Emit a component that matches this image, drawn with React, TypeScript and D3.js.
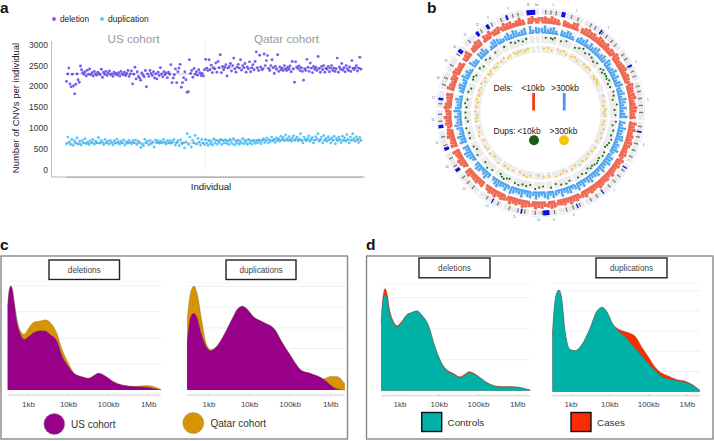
import React from "react";
import * as d3 from "d3";

// ---------- panel a ----------
const yTicksA = [0, 500, 1000, 1500, 2000, 2500, 3000];
const usDeletion = [2120,2300,2440,2060,1990,2290,2010,1820,2050,2300,2160,2100,2490,2400,2330,2290,2350,2250,2390,2290,2420,2280,2330,2250,2360,2300,2270,2340,2310,2280,2410,2220,2340,2290,2360,2260,2320,2370,2280,2300,2240,2340,2290,2310,2270,2330,2250,2360,2300,2280,2340,2260,2310,2380,2240,2300,2370,2060,2290,2460,2180,2350,2240,2200,2150,2320,2270,2230,2380,1990,2300,2240,2380,2310,2260,2350,2200,2300,2180,2340,2260,2450,2300,2230,2350,2280,2320,2210,2340,2290,2520,2090,2200,2280,2420,2090,2350,2440,2530,1980,2090,2210,2350,2160,1860,1870,2640,2310,2380,2220,2430,2290,2350,2270,2400,2330,2260,2310,2250];
const qatarDeletion = [2400,2650,2440,2380,2640,2400,2510,2330,2450,2420,2560,2340,2600,2450,2760,2330,2480,2400,2460,2520,2250,2440,2480,2550,2370,2500,2680,2420,2340,2470,2530,2440,2640,2390,2500,2450,2550,2340,2470,2420,2590,2350,2450,2520,2400,2600,2830,2450,2380,2750,2470,2400,2420,2780,2500,2620,2740,2430,2380,2500,2640,2450,2310,2480,2410,2760,2360,2470,2400,2440,2380,2500,2420,2380,2460,2410,2490,2350,2600,2420,2100,2590,2470,2430,2490,2380,2450,2360,2150,2420,2380,2650,2460,2360,2560,2440,2330,2480,2410,2460,2380,2720,2430,2340,2480,2400,2500,2340,2430,2410,2480,2350,2440,2500,2380,2440,2360,2420,2680,2340,2470,2410,2550,2390,2450,2350,2500,2420,2380,2470,2360,2620,2430,2400,2450,2500,2370,2440,2700,2410];
const usDuplication = [620,780,660,600,720,580,690,630,760,610,680,590,700,640,740,620,660,600,690,650,720,610,680,640,770,630,700,660,600,720,640,680,610,700,650,590,690,630,730,660,610,680,640,710,590,670,630,700,650,620,690,640,710,600,680,650,530,610,570,720,640,680,590,700,620,660,540,710,650,690,630,680,640,720,660,610,690,640,700,630,680,720,590,650,690,570,710,620,640,520,660,860,600,780,540,700,640,820,610,750,660,590,720,640];
const qatarDuplication = [600,720,640,580,690,620,660,590,740,640,700,610,680,650,720,600,690,640,710,630,680,600,720,660,620,740,590,680,630,700,610,670,640,750,620,690,650,600,720,640,680,610,700,660,630,690,640,710,670,620,700,740,650,690,760,640,710,670,780,690,720,650,760,700,740,680,800,720,770,690,830,740,700,790,720,680,760,810,700,740,780,690,730,860,700,640,780,720,690,750,810,680,730,770,640,700,790,740,860,680,720,780,640,820,700,750,680,790,730,640,760,700,800,620,740,690,780,720,650,800,700,760,680,840,720,640,780,700,860,740,680,790,720,650,770,700];
const meansA = [
  { from: 0, to: 1, value: 2300 },
  { from: 1, to: 2, value: 2440 },
  { from: 0, to: 1, value: 640 },
  { from: 1, to: 2, value: 710 },
];
const purple = "#7A5CF2";
const sky = "#5AC8FC";

// ---------- panel b ----------
const sectorEdges = [0,13.5,25.6,52,72,95,120,154,170,176,186,202,217.5,232.7,247,260,272,283,293.8,303.6,311,320.5,327.8,334,351,356,360];
const redBars = [7,8,6,9,7,6,8,7,6,5,8,9,7,6,8,9,7,8,6,9,8,7,9,6,8,7,9,8,6,7,8,9,6,8,7,6,9,8,7,8,9,6,7,9,8,6,7,8,9,7,9,6,8,7,9,8,6,7,8,6,9,7,8,6,7,9,6,8,7,8,9,6,7,8,6,9,7,6,8,7,9,6,8,7,6,8,9,7,6,8,7,9,6,7,8,9,6,8,7,9,6,7,8,6,9,7,8,6,9,7,6,8,7,6,9,8,7,6,8,9,6,7,9,6,8,7,6,9,8,7,6,8,7,9,6,7,9,8,6,7,8,6,9,7,6,8,7,9,8,6,7,8,6,7,9,8,6,7,9,8,6,8,7,9,6,7,8,6,9,7,8,5,7,9,6,8,7,9,6,7];
const blueBars = [6,9,5,7,8,4,9,6,5,8,7,4,9,5,7,6,9,4,8,5,7,9,4,6,8,5,9,7,4,6,9,5,8,4,7,9,5,6,8,4,9,7,5,8,4,6,9,5,7,4,9,6,5,8,9,4,7,6,9,5,4,8,7,9,5,6,9,4,8,6,5,9,7,4,8,5,9,6,4,8,7,5,9,4,6,8,5,9,7,4,6,9,5,8,7,4,9,6,5,7,9,4,8,5,6,9,7,4,8,5,9,6,4,7,8,5,9,4,6,8,9,5,7,4,8,6,9,5,4,7,9,6,5,8,4,9,7,5,6,8,4,9,5,7,8,4,6,9,5,7,4,8,9,6,5,4,8,7,9,5,6,4,8,9,7,5,4,6,8,5,9,7,4,6,8,5,9,4,7,6];
const greenAngles = [4,8,9.5,11,16,20,28,31,34,37,40,43,46,49,54,56,57,59,61,63,65,67,70,74,77,80,84,88,92,97,100,104,108,111,114,116,118,122,125,128,130,132,134,136,138,140,143,146,150,157,160,164,168,172,178,181,184,188,191,194,197,200,205,207,209,211,213,220,224,228,236,240,243,250,254,258,263,266,270,274,277,280,286,289,296,298,300,306,309,314,317,323,331,337,340,343,346,349];
const greenLevels = [5,5,4,6,4,6,3,5,7,4,6,5,3,5,4,6,3,5,5,4,6,3,4,6,5,3,7,4,5,6,3,5,4,6,5,4,3,5,6,4,5,6,5,4,5,3,6,4,5,4,6,5,3,6,4,5,7,3,5,4,6,5,3,4,6,5,3,5,7,4,6,3,5,5,4,6,3,5,5,4,6,4,5,3,5,6,4,5,3,6,4,5,5,6,4,5,3,5];
const yellowAngles = [3,7,10,15,18,21,24,29,32,35,42,45,47,49,56,58,60,62,64,75,80,84,87,89,91,93,98,101,105,109,113,117,123,127,131,135,139,143,147,151,156,159,162,166,172,177,182,189,192,195,199,205,210,214,220,226,231,235,238,244,249,252,256,262,265,268,271,275,279,282,285,287,290,293,296,299,302,306,308,310,314,316,319,322,326,329,332,336,338,340,342,345,347,349];
const yellowLevels = [4,5,3,5,4,6,3,4,5,3,5,4,6,5,4,3,5,4,3,5,4,3,5,4,3,5,4,3,5,4,6,3,5,4,3,5,4,6,3,5,4,3,5,6,4,5,3,4,6,5,3,4,5,4,6,3,5,4,5,3,6,4,3,5,4,3,5,4,3,5,4,3,5,4,6,3,5,4,3,5,4,3,5,4,6,3,4,5,3,4,5,3,4,5];
const centromeres = [
  [354.5, 5], [13.2, 2.2], [36.8, 0.9], [62.5, 0.9], [101, 0.9], [123, 0.7], [142, 0.7], [158.5, 0.7], [176.7, 3.6],
  [190.9, 0.9], [208.5, 0.7], [235.4, 1.8], [249, 1.8], [262, 1.8], [277.7, 1.4], [307.4, 2.2], [321.4, 1.8], [328.4, 1.8], [340.5, 1.2],
];
const cytoBands = [3,6,9,18,22,30,33,38,41,45,48,55,58,63,66,69,75,78,82,86,90,98,104,108,112,116,125,129,133,137,146,150,157,161,165,172,179,183,189,193,198,205,212,222,226,230,238,243,251,256,265,269,275,286,290,298,305,315,324,331,337,344,347];
const chromLabels = ["1","2","3","4","5","6","7","8","9","10","11","12","13","14","15","16","17","18","19","20","21","22","X","Y","M","Un"];

// ---------- panels c, d ----------
const xTicksLog = [3, 4, 5, 6];
const xTickLabels = ["1kb", "10kb", "100kb", "1Mb"];
const minorTicksLog = [2.7, 3.7, 4.7, 5.7];

const cDelSize = [2.48,2.52,2.56,2.60,2.64,2.71,2.79,2.89,3.00,3.12,3.29,3.42,3.54,3.71,3.83,4.00,4.16,4.33,4.50,4.62,4.75,4.91,5.12,5.37,5.62,5.95,6.12,6.31];
const cDelUS = [3.19,3.83,3.98,3.83,3.38,2.61,2.17,1.94,2.04,2.19,2.27,2.26,2.13,1.88,1.34,0.89,0.61,0.51,0.45,0.54,0.64,0.54,0.32,0.18,0.13,0.11,0.06,0.01];
const cDelQatar = [3.19,3.83,3.98,3.83,3.44,2.74,2.30,2.14,2.36,2.59,2.64,2.69,2.59,2.17,1.59,1.02,0.61,0.51,0.45,0.54,0.64,0.54,0.32,0.18,0.14,0.17,0.13,0.01];

const cDupSize = [2.46,2.50,2.55,2.63,2.71,2.82,2.93,3.04,3.19,3.35,3.56,3.72,3.83,3.93,4.09,4.34,4.63,4.79,5.00,5.16,5.28,5.49,5.82,5.98,6.15,6.35];
const cDupUS = [2.34,2.98,3.55,3.71,3.47,2.66,2.10,1.90,2.10,2.58,3.39,3.95,4.05,3.92,3.55,3.27,2.90,2.34,1.69,1.21,0.94,0.81,0.53,0.27,0.05,0];
const cDupQatar = [3.31,4.13,4.76,5.03,4.66,3.39,2.26,1.95,2.10,2.58,3.39,3.95,4.05,3.92,3.55,3.27,2.90,2.34,1.69,1.21,0.94,0.81,0.53,0.65,0.65,0.29];

const dDelSize = [2.52,2.55,2.62,2.68,2.74,2.83,2.93,3.04,3.17,3.30,3.44,3.55,3.72,3.89,4.06,4.19,4.36,4.53,4.66,4.76,5.00,5.21,5.51,5.93,6.32];
const dDelControls = [2.17,2.76,3.11,2.92,2.49,2.20,2.06,2.20,2.44,2.52,2.57,2.44,2.12,1.42,0.88,0.65,0.53,0.42,0.51,0.59,0.45,0.26,0.13,0.12,0.02];
const dDelCases = [2.17,2.87,3.30,3.09,2.60,2.25,2.10,2.23,2.45,2.53,2.58,2.45,2.13,1.43,0.90,0.68,0.56,0.45,0.54,0.62,0.47,0.27,0.14,0.13,0.02];

const dDupSize = [2.52,2.56,2.63,2.69,2.76,2.85,2.97,3.10,3.27,3.49,3.66,3.81,3.92,4.09,4.22,4.39,4.65,4.82,4.99,5.16,5.29,5.50,5.72,5.94,6.15,6.32];
const dDupControls = [2.81,3.97,4.88,5.04,4.63,2.98,2.10,2.03,2.31,3.14,3.97,4.18,3.97,3.31,3.01,2.73,2.15,1.79,1.40,1.07,0.83,0.63,0.55,0.46,0.30,0.05];
const dDupCases = [2.81,3.97,4.88,5.04,4.63,2.98,2.10,2.03,2.31,3.14,3.97,4.18,3.97,3.31,3.11,2.98,2.76,2.23,1.74,1.24,0.99,0.79,0.61,0.53,0.33,0.08];

const FONT = "'Liberation Sans', Arial, sans-serif";
const usColor = "#99008A";
const qatarColor = "#D79300";
const teal = "#00B2A6";
const caseRed = "#FB2C00";

function Letter({ x, y, t }: { x: number; y: number; t: string }) {
  return <text x={x} y={y} fontFamily={FONT} fontWeight="bold" fontSize={15.5} fill="#111">{t}</text>;
}

function PanelA() {
  const yS = d3.scaleLinear().domain([0, 3000]).range([169.5, 44.8]);
  const xS = d3.scaleLinear().domain([0, 1, 2]).range([66.5, 204.5, 362]);
  const x = (group: number, i: number, n: number) => xS(group + i / n);
  const groups: [number[], number, string][] = [
    [usDuplication, 0, sky], [qatarDuplication, 1, sky], [usDeletion, 0, purple], [qatarDeletion, 1, purple],
  ];
  return (
    <g fontFamily={FONT}>
      <Letter x={0} y={12.5} t="a" />
      <circle cx={54} cy={19} r={1.9} fill={purple} />
      <text x={60} y={21.8} fontSize={8.3} fill="#222">deletion</text>
      <circle cx={102} cy={19} r={1.9} fill={sky} />
      <text x={108} y={21.8} fontSize={8.5} fill="#222">duplication</text>
      <text x={133.5} y={43} textAnchor="middle" fontSize={11.7} fill="#9a9a9a">US cohort</text>
      <text x={286.5} y={43} textAnchor="middle" fontSize={11.7} fill="#9a9a9a">Qatar cohort</text>
      <line x1={205.5} x2={205.5} y1={40} y2={170} stroke="#d8d8d8" strokeWidth={0.8} strokeDasharray="1 1.5" />
      <line x1={51.5} x2={51.5} y1={41} y2={177} stroke="#aaa" strokeWidth={0.8} />
      <line x1={51} x2={365} y1={177} y2={177} stroke="#b5b5b5" strokeWidth={1} />
      <line x1={66.5} x2={362} y1={177.2} y2={177.2} stroke="#888" strokeWidth={1} strokeDasharray="1 0.6" />
      {yTicksA.map((t) => (
        <text key={t} x={48} y={yS(t) + 3} textAnchor="end" fontSize={8.5} fill="#333">{t}</text>
      ))}
      <text transform="translate(18.5,108) rotate(-90)" textAnchor="middle" fontSize={9.5} fill="#222">Number of CNVs per individual</text>
      <text x={211} y={190} textAnchor="middle" fontSize={9.6} fill="#222">Individual</text>
      {groups.map(([vals, g, c], k) => (
        <g key={k} fill={c}>
          {vals.map((v, i) => <circle key={i} cx={x(g, i, vals.length)} cy={yS(v)} r={1.45} />)}
        </g>
      ))}
      {meansA.map((m, i) => (
        <line key={i} x1={xS(m.from)} x2={xS(m.to)} y1={yS(m.value)} y2={yS(m.value)} stroke="#333" strokeWidth={0.6} strokeDasharray="0.9 1.1" />
      ))}
    </g>
  );
}

function PanelB() {
  const cx = 540.5, cy = 112.5;
  const arc = d3.arc<any>();
  const rad = (a: number) => (a * Math.PI) / 180;
  const pad = 0.6;
  const sectors = d3.pairs(sectorEdges).map(([a, b]) => ({ a: a + pad, b: b - pad }));
  const path = (r0: number, r1: number, a0: number, a1: number) =>
    arc({ innerRadius: r0, outerRadius: r1, startAngle: rad(a0), endAngle: rad(a1) }) as string;
  const inSector = (a: number) => sectors.some((s) => a > s.a && a < s.b);
  const ringBg = [
    { r0: 60, r1: 67, fill: "#ECECEC" },
    { r0: 69.5, r1: 77, fill: "#ECECEC" },
    { r0: 79, r1: 87, fill: "#F3F3F3" },
    { r0: 98, r1: 103, fill: "#EAEAEA" },
  ];
  const pol = (r: number, a: number) => [cx + r * Math.sin(rad(a)), cy - r * Math.cos(rad(a))];
  const binDeg = 2;
  return (
    <g fontFamily={FONT}>
      <Letter x={427} y={13} t="b" />
      <g filter="url(#soft)">
        <g transform={`translate(${cx},${cy})`}>
          {ringBg.map((r, k) => sectors.map((s, i) => <path key={`${k}-${i}`} d={path(r.r0, r.r1, s.a, s.b)} fill={r.fill} />))}
          {sectors.map((s, i) => <path key={i} d={path(89, 92, s.a, s.b)} fill="#EE6B55" />)}
          {redBars.map((v, i) => {
            const a = i * binDeg + 1;
            return inSector(a) ? <path key={i} d={path(91, 90 + v * 0.78, a - 0.95, a + 0.95)} fill="#EE6B55" /> : null;
          })}
          {sectors.map((s, i) => <path key={i} d={path(79, 81, s.a, s.b)} fill="#4EA7F4" />)}
          {blueBars.map((v, i) => {
            const a = i * binDeg + 1;
            return inSector(a) ? <path key={i} d={path(80, 80 + v * 0.8, a - 0.8, a + 0.8)} fill="#4EA7F4" /> : null;
          })}
          {sectors.map((s, i) => (
            <path key={i} d={path(103.8, 104.6, s.a, s.b)} fill="#E6E6FC" />
          ))}
          {cytoBands.filter(inSector).map((a, i) => <path key={i} d={path(98.4, 102.6, a - 0.35, a + 0.35)} fill="#777" />)}
          {centromeres.map(([a, w], i) => <path key={i} d={path(98, 103, a - w / 2, a + w / 2)} fill="#0A0AE6" />)}
        </g>
        {greenAngles.map((a, i) => {
          const [x, y] = pol(70.5 + greenLevels[i] * 0.9, a);
          return <circle key={i} cx={x} cy={y} r={1.05} fill="#1C6B14" />;
        })}
        {yellowAngles.map((a, i) => {
          const [x, y] = pol(60.5 + yellowLevels[i] * 0.9, a);
          return <circle key={i} cx={x} cy={y} r={1.05} fill="#F8C21F" />;
        })}
      </g>
      {sectors.map((s, i) => {
        const [x, y] = pol(108, (s.a + s.b) / 2);
        return <text key={i} x={x} y={y + 1} textAnchor="middle" fontSize={2.8} fill="#666">{chromLabels[i]}</text>;
      })}
      <g fontSize={8.5} fill="#222">
        <text x={493.5} y={90.5}>Dels:</text>
        <text x={533} y={90.5} textAnchor="middle">&lt;10kb</text>
        <text x={565} y={90.5} textAnchor="middle">&gt;300kb</text>
        <text x={493.5} y={133.5}>Dups:</text>
        <text x={529} y={133.5} textAnchor="middle">&lt;10kb</text>
        <text x={563.5} y={133.5} textAnchor="middle">&gt;300kb</text>
      </g>
      <rect x={532.2} y={93} width={2.8} height={17.5} fill="#F23E18" />
      <rect x={562.8} y={93} width={2.8} height={17.5} fill="#4A96F0" />
      <circle cx={534} cy={140.3} r={5} fill="#15600C" />
      <circle cx={564} cy={140.3} r={5} fill="#FBC400" />
    </g>
  );
}

function Density(props: {
  x0: number; x1: number; xTick3: number; xTick6: number; base: number; axisY: number; labelY: number;
  unit: number; grid: number[]; top: number; size: number[]; back: number[]; front: number[]; backColor: string; frontColor: string;
}) {
  const { x0, x1, xTick3, xTick6, base, axisY, labelY, unit, grid, top, size, back, front, backColor, frontColor } = props;
  const xS = d3.scaleLinear().domain([3, 6]).range([xTick3, xTick6]);
  const yS = d3.scaleLinear().domain([0, 1]).range([base, base - unit]);
  const area = (vals: number[]) =>
    d3.area<number>().x((_, i) => xS(size[i])).y0(base).y1((d) => yS(d)).curve(d3.curveMonotoneX)(vals) as string;
  const upper = (vals: number[]) =>
    d3.line<number>().x((_, i) => xS(size[i])).y((d) => yS(d)).curve(d3.curveMonotoneX)(vals) as string;
  return (
    <g>
      <line x1={x0} x2={x1} y1={top} y2={top} stroke="#f3f3f3" strokeWidth={0.8} />
      {grid.map((g) => <line key={g} x1={x0} x2={x1} y1={yS(g)} y2={yS(g)} stroke="#ececec" strokeWidth={0.8} />)}
      <path d={area(back)} fill={backColor} />
      <path d={upper(back)} fill="none" stroke="#666" strokeWidth={0.3} />
      <path d={area(front)} fill={frontColor} />
      <path d={upper(front)} fill="none" stroke="#555" strokeWidth={0.3} />
      <line x1={x0} x2={x1} y1={axisY} y2={axisY} stroke="#c4c4c4" strokeWidth={0.8} />
      {xTicksLog.map((t) => <line key={t} x1={xS(t)} x2={xS(t)} y1={axisY - 1.5} y2={axisY} stroke="#aaa" strokeWidth={0.6} />)}
      {minorTicksLog.map((t) => <line key={t} x1={xS(t)} x2={xS(t)} y1={axisY - 1} y2={axisY} stroke="#c4c4c4" strokeWidth={0.5} />)}
      {xTicksLog.map((t, i) => (
        <text key={t} x={xS(t)} y={labelY} textAnchor="middle" fontSize={8} fill="#444">{xTickLabels[i]}</text>
      ))}
    </g>
  );
}

function TitleBox({ x, y, w, h, t }: { x: number; y: number; w: number; h: number; t: string }) {
  return (
    <g>
      <rect x={x} y={y} width={w} height={h} fill="#fff" stroke="#222" strokeWidth={1.4} />
      <text x={x + w / 2} y={y + h / 2 + 2.8} textAnchor="middle" fontSize={8.2} fill="#444">{t}</text>
    </g>
  );
}

function PanelC() {
  return (
    <g fontFamily={FONT}>
      <Letter x={0} y={250} t="c" />
      <rect x={1} y={256} width={346.5} height={183} fill="#fff" stroke="#888" strokeWidth={1.4} />
      <TitleBox x={49} y={260} w={70.5} h={19.5} t="deletions" />
      <TitleBox x={226} y={260} w={70} h={19.5} t="duplications" />
      <Density x0={7.7} x1={161} xTick3={28.5} xTick6={148.7} base={390} axisY={395} labelY={407} unit={26.1} grid={[1, 2, 3, 4]} top={281}
        size={cDelSize} back={cDelQatar} front={cDelUS} backColor={qatarColor} frontColor={usColor} />
      <Density x0={187} x1={345} xTick3={209} xTick6={330.7} base={390} axisY={395} labelY={407} unit={20.7} grid={[1, 2, 3, 4, 5]} top={282}
        size={cDupSize} back={cDupQatar} front={cDupUS} backColor={qatarColor} frontColor={usColor} />
      <circle cx={54.3} cy={424} r={10.5} fill={usColor} stroke="#999" strokeWidth={0.5} />
      <text x={71} y={427.5} fontSize={10} fill="#333">US cohort</text>
      <circle cx={193.3} cy={423} r={10.5} fill={qatarColor} stroke="#888" strokeWidth={0.5} />
      <text x={210.5} y={426.5} fontSize={10} fill="#333">Qatar cohort</text>
    </g>
  );
}

function PanelD() {
  return (
    <g fontFamily={FONT}>
      <Letter x={366} y={250} t="d" />
      <rect x={366.5} y={256} width={346.5} height={183} fill="#fff" stroke="#888" strokeWidth={1.4} />
      <TitleBox x={419} y={258} w={71} h={19.8} t="deletions" />
      <TitleBox x={596} y={258} w={71} h={19.8} t="duplications" />
      <Density x0={381} x1={530} xTick3={400} xTick6={517.7} base={390.7} axisY={395.7} labelY={407} unit={31} grid={[1, 2, 3]} top={283.5}
        size={dDelSize} back={dDelCases} front={dDelControls} backColor={caseRed} frontColor={teal} />
      <Density x0={552.3} x1={700} xTick3={571} xTick6={687.4} base={391.7} axisY={395.7} labelY={407} unit={20.2} grid={[1, 2, 3, 4, 5]} top={283}
        size={dDupSize} back={dDupCases} front={dDupControls} backColor={caseRed} frontColor={teal} />
      <rect x={421.7} y={412.5} width={20} height={19} fill={teal} stroke="#111" strokeWidth={1.4} />
      <text x={447.5} y={425.6} fontSize={9.9} fill="#333">Controls</text>
      <rect x={571} y={412.5} width={20} height={19} fill={caseRed} stroke="#111" strokeWidth={1.4} />
      <text x={597} y={425.6} fontSize={9.9} fill="#333">Cases</text>
    </g>
  );
}

export default function App() {
  return (
    <svg width={714} height={441} viewBox="0 0 714 441" style={{ position: "absolute", left: 0, top: 0, display: "block", background: "#fff" }}>
      <defs>
        <filter id="soft" x="0" y="0" width="1" height="1" filterUnits="objectBoundingBox">
          <feGaussianBlur stdDeviation="0.35" />
        </filter>
      </defs>
      <PanelA />
      <PanelB />
      <PanelC />
      <PanelD />
    </svg>
  );
}
